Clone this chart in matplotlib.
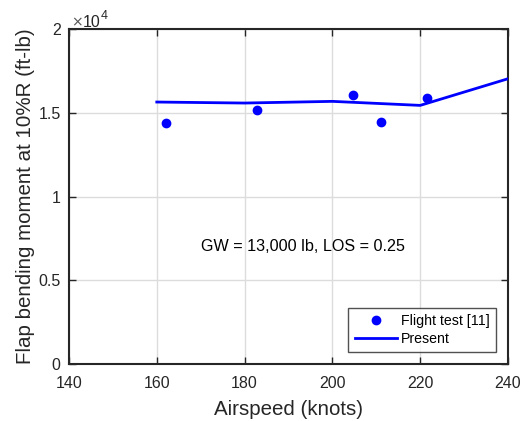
import matplotlib
matplotlib.use("Agg")
import matplotlib.pyplot as plt

plt.rcParams['font.family'] = ['Liberation Sans', 'DejaVu Sans']

# Flight test measurements
test_speed = [162.1, 182.8, 204.7, 211.1, 221.5]
test_moment = [14390, 15150, 16040, 14430, 15880]

# Present prediction
pred_speed = [160, 180, 200, 220, 240]
pred_moment = [15640, 15580, 15680, 15440, 17030]

x_ticks = [140, 160, 180, 200, 220, 240]
y_ticks = [0, 5000, 10000, 15000, 20000]
y_tick_labels = ['0', '0.5', '1', '1.5', '2']

fig = plt.figure(figsize=(5.23, 4.21), dpi=100)
ax = fig.add_axes([0.1319, 0.1354, 0.8394, 0.7957])

ax.plot(test_speed, test_moment, 'o', color='#0000ff', markersize=6,
        label='Flight test [11]', zorder=3)
ax.plot(pred_speed, pred_moment, '-', color='#0000ff', linewidth=2,
        label='Present', zorder=3)

ax.set_xlim(140, 240)
ax.set_ylim(0, 20000)
ax.set_xticks(x_ticks)
ax.set_yticks(y_ticks)
ax.set_yticklabels(y_tick_labels)
ax.tick_params(direction='in', top=True, right=True, labelsize=11.5,
               colors='#262626', length=5, width=1)
ax.tick_params(axis='x', pad=8.3)
ax.tick_params(axis='y', pad=6)
for lbl in ax.get_xticklabels() + ax.get_yticklabels():
    lbl.set_color('#262626')
for sp in ax.spines.values():
    sp.set_linewidth(1.5)
    sp.set_color('#262626')
ax.grid(True, color='#dcdcdc', linewidth=1)
ax.set_axisbelow(True)

ax.set_xlabel('Airspeed (knots)', fontsize=14.8, color='#262626', labelpad=7)
ax.set_ylabel('Flap bending moment at 10%R (ft-lb)', fontsize=14.8,
              color='#262626', labelpad=2.5)

# Exponent marker for the y axis: "×10" with a raised "4"
ax.annotate('\u00d7', xy=(0, 1), xycoords='axes fraction',
            xytext=(2, 3), textcoords='offset pixels', family='DejaVu Sans',
            fontsize=10, color='#555555', ha='left', va='baseline')
ax.annotate('10', xy=(0, 1), xycoords='axes fraction',
            xytext=(14, 2), textcoords='offset pixels',
            fontsize=11.5, color='#262626', ha='left', va='baseline')
ax.annotate('4', xy=(0, 1), xycoords='axes fraction',
            xytext=(32, 10), textcoords='offset pixels',
            fontsize=9, color='#262626', ha='left', va='baseline')

ax.text(193.2, 7000, 'GW = 13,000 lb, LOS = 0.25', fontsize=11.6,
        ha='center', va='center', color='black')

leg = ax.legend(loc='lower right', fontsize=10.2, frameon=True, fancybox=False,
                edgecolor='#262626', handlelength=3.0, borderpad=0.45,
                labelspacing=0.25, handletextpad=0.27, borderaxespad=0,
                bbox_to_anchor=(0.9727, 0.0358))
leg.get_frame().set_linewidth(1)

fig.savefig('out.png', dpi=100)
